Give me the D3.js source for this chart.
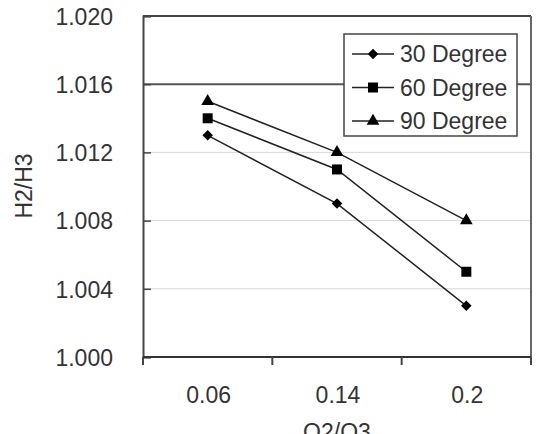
<!DOCTYPE html>
<html>
<head>
<meta charset="utf-8">
<script src="https://cdn.jsdelivr.net/npm/d3@7"></script>
<style>
body { margin: 0; background: #fff; }
text { font-family: "Liberation Sans", Arial, sans-serif; fill: #333; }
</style>
</head>
<body>
<div id="chart"></div>
<script>
// data
let categories = ["0.06", "0.14", "0.2"];
let seriesNames = ["30 Degree", "60 Degree", "90 Degree"];
let deg30 = [1.013, 1.009, 1.003];
let deg60 = [1.014, 1.011, 1.005];
let deg90 = [1.015, 1.012, 1.008];
let yTicks = [1.000, 1.004, 1.008, 1.012, 1.016, 1.020];

let width = 537, height = 434;
let margin = {top: 16, right: 6, bottom: 77, left: 143};
let plotW = width - margin.left - margin.right,
	plotH = height - margin.top - margin.bottom;
let fontSize = "23px";

let svg = d3.select("#chart").append("svg")
	.attr("width", width)
	.attr("height", height);

let g = svg.append("g")
	.attr("transform", "translate(" + margin.left + "," + margin.top + ")");

let xScale = d3.scaleBand()
	.domain(categories)
	.range([0, plotW]);

let yScale = d3.scaleLinear()
	.domain([1.000, 1.020])
	.range([plotH, 0]);

// gridlines
g.selectAll(".grid")
	.data(yTicks.slice(1, -1))
	.enter()
	.append("line")
	.attr("x1", 0)
	.attr("x2", plotW)
	.attr("y1", d => yScale(d))
	.attr("y2", d => yScale(d))
	.attr("stroke", d => d === 1.016 ? "#555" : "#d8d8d8")
	.attr("stroke-width", d => d === 1.016 ? 2 : 1);

// frame top / right
g.append("line").attr("x1", 0).attr("x2", plotW).attr("y1", 0).attr("y2", 0)
	.attr("stroke", "#444").attr("stroke-width", 2);
g.append("line").attr("x1", plotW).attr("x2", plotW).attr("y1", 0).attr("y2", plotH)
	.attr("stroke", "#666").attr("stroke-width", 2);

// y axis
let yaxis = d3.axisLeft(yScale)
	.tickValues(yTicks)
	.tickFormat(d3.format(".3f"))
	.tickSize(-8)
	.tickPadding(30);

let yg = g.append("g").call(yaxis);
yg.select(".domain").attr("stroke", "#444").attr("stroke-width", 2);
yg.selectAll(".tick line").attr("stroke", "#444").attr("stroke-width", 1.5);
yg.selectAll(".tick text").style("font-size", fontSize).attr("fill", "#333").attr("dy", "0.36em");
// little stub below axis at 1.000
g.append("line").attr("x1", 0).attr("x2", 0).attr("y1", plotH).attr("y2", plotH + 8)
	.attr("stroke", "#444").attr("stroke-width", 2);

// x axis, ticks between categories
let xg = g.append("g").attr("transform", "translate(0," + plotH + ")");
xg.append("line").attr("x1", 0).attr("x2", plotW).attr("stroke", "#333").attr("stroke-width", 2);
let boundaries = categories.map(c => xScale(c) + xScale.bandwidth());
xg.selectAll(".xtick")
	.data(boundaries)
	.enter()
	.append("line")
	.attr("x1", d => d).attr("x2", d => d)
	.attr("y1", 0).attr("y2", 8)
	.attr("stroke", "#444").attr("stroke-width", 2);
xg.selectAll(".xlabel")
	.data(categories)
	.enter()
	.append("text")
	.attr("x", d => xScale(d) + xScale.bandwidth() / 2 + 1)
	.attr("y", 46)
	.attr("text-anchor", "middle")
	.style("font-size", fontSize)
	.text(d => d);

// axis titles
svg.append("text")
	.attr("x", margin.left + plotW / 2)
	.attr("y", 440)
	.attr("text-anchor", "middle")
	.style("font-size", fontSize)
	.text("O2/O3");

svg.append("text")
	.attr("transform", "translate(32,186) rotate(-90)")
	.attr("text-anchor", "middle")
	.style("font-size", fontSize)
	.text("H2/H3");

// series
let series = [
	{name: seriesNames[0], values: deg30, symbol: d3.symbolSquare, size: 55, rot: 45},
	{name: seriesNames[1], values: deg60, symbol: d3.symbolSquare, size: 100, rot: 0},
	{name: seriesNames[2], values: deg90, symbol: d3.symbolTriangle, size: 70, rot: 0}
];

let line = d3.line()
	.x((d, i) => xScale(categories[i]) + xScale.bandwidth() / 2)
	.y(d => yScale(d));

series.forEach(s => {
	g.append("path")
		.attr("d", line(s.values))
		.attr("fill", "none")
		.attr("stroke", "#222")
		.attr("stroke-width", 1.5);
	g.selectAll(null)
		.data(s.values)
		.enter()
		.append("path")
		.attr("d", d3.symbol().type(s.symbol).size(s.size))
		.attr("transform", (d, i) => "translate(" + (xScale(categories[i]) + xScale.bandwidth() / 2) + "," + yScale(d) + ") rotate(" + s.rot + ")")
		.attr("fill", "#000");
});

// legend
let legend = svg.append("g").attr("transform", "translate(344,34)");
legend.append("rect")
	.attr("width", 173).attr("height", 102)
	.attr("fill", "#fff").attr("stroke", "#444").attr("stroke-width", 1.5);
series.forEach((s, i) => {
	let ly = 20 + i * 33.5;
	legend.append("line").attr("x1", 8).attr("x2", 50).attr("y1", ly).attr("y2", ly)
		.attr("stroke", "#222").attr("stroke-width", 1.5);
	legend.append("path")
		.attr("d", d3.symbol().type(s.symbol).size(s.size))
		.attr("transform", "translate(29," + ly + ") rotate(" + s.rot + ")")
		.attr("fill", "#000");
	legend.append("text")
		.attr("x", 56).attr("y", ly + 8)
		.style("font-size", fontSize)
		.text(s.name);
});
</script>
</body>
</html>
